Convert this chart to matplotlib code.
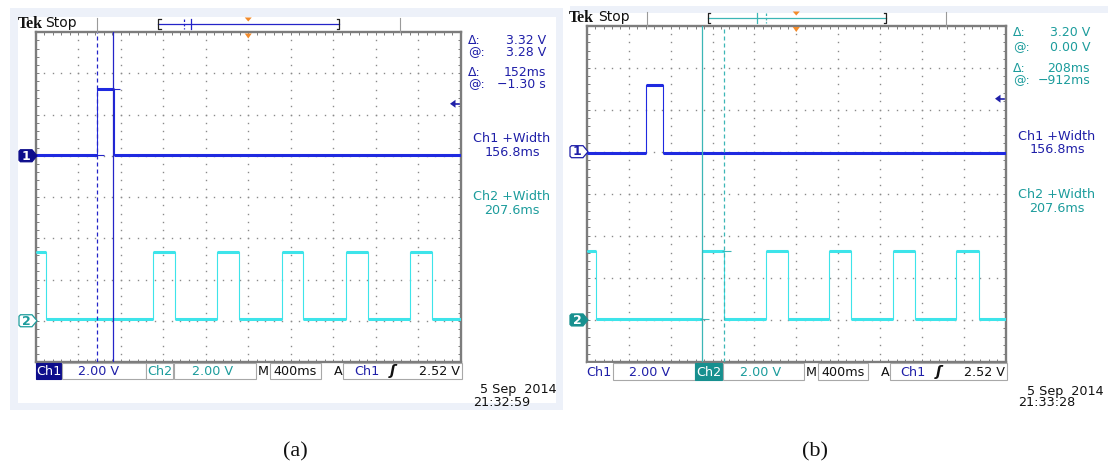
import matplotlib
matplotlib.use("Agg")
import matplotlib.pyplot as plt
from matplotlib.patches import Rectangle, Polygon
import numpy as np

# ------------------------------------------------------------------ data
time_per_div = 0.4      # s/div  (M 400ms)
volts_per_div = 2.0     # V/div  (Ch1, Ch2 2.00 V)
ch1_ground = 5.0        # divisions from bottom
ch2_ground = 1.0
trigger_level = 2.52    # V

# panel (a)
a_ch1_edges = [-1.425, -1.268]                       # s, rising then falling
a_ch1_levels = (0.04, 3.24)                          # low, high (V)
a_ch2_edges = [-1.906, -0.898, -0.690, -0.290, -0.087, 0.318, 0.516,
               0.921, 1.128, 1.524, 1.731]           # starts high
a_ch2_levels = (0.08, 3.34)
a_cursor_times = [-1.425, -1.273]
a_cursor_styles = ["dashed", "solid"]
a_readout_labels = ["Δ:", "@:", "Δ:", "@:"]
a_readout_values = ["3.32 V", "3.28 V", "152ms", "−1.30 s"]
a_ch1_width = "156.8ms"
a_ch2_width = "207.6ms"
a_date = "5 Sep  2014"
a_clock = "21:32:59"

# panel (b)
b_ch1_edges = [-1.433, -1.278]
b_ch1_levels = (-0.06, 3.18)
b_ch2_edges = [-1.910, -0.897, -0.693, -0.288, -0.081, 0.317, 0.524,
               0.925, 1.133, 1.531, 1.742]
b_ch2_levels = (0.04, 3.28)
b_cursor_times = [-0.897, -0.694]
b_cursor_styles = ["solid", "dashed"]
b_readout_labels = ["Δ:", "@:", "Δ:", "@:"]
b_readout_values = ["3.20 V", "0.00 V", "208ms", "−912ms"]
b_ch1_width = "156.8ms"
b_ch2_width = "207.6ms"
b_date = "5 Sep  2014"
b_clock = "21:33:28"

status_ch1 = "2.00 V"
status_ch2 = "2.00 V"
status_time = "400ms"
status_trig = "2.52 V"
captions = ["(a)", "(b)"]

# ------------------------------------------------------------------ style
W, H = 1108, 466
C1_TRACE = "#1f2ae0"
C2_TRACE = "#3de4ea"
C1_TEXT = "#1f1fa8"
C2_TEXT = "#1c9c9c"
C1_FILL = "#0e0e8c"
C2_FILL = "#17908f"
ORANGE = "#f28a2a"
FRAME = "#edf1f9"
GRID = "#8a8a8a"
BORDER = "#7c7c7c"
BOX = "#a8a8a8"
FS = 9.2
FR = 9.0

fig = plt.figure(figsize=(W / 100, H / 100), dpi=100)
bg = fig.add_axes([0, 0, 1, 1], zorder=0)
ov = fig.add_axes([0, 0, 1, 1], zorder=3)
for a in (bg, ov):
    a.set_xlim(0, W)
    a.set_ylim(H, 0)
    a.axis("off")
    a.patch.set_alpha(0)

# frames
bg.add_patch(Rectangle((10, 8), 553, 402, facecolor=FRAME, edgecolor="none"))
bg.add_patch(Rectangle((18, 17), 538, 386, facecolor="white", edgecolor="none"))
bg.add_patch(Rectangle((570, 6), 538, 6.5, facecolor=FRAME, edgecolor="none"))


def trace(edges, start_high, levels):
    lo, hi = levels
    state = start_high
    ts, vs, segs = [-2.0], [hi if state else lo], []
    tprev = -2.0
    for e in edges:
        v = hi if state else lo
        segs.append((tprev, e, v))
        state = not state
        ts += [e, e]
        vs += [v, hi if state else lo]
        tprev = e
    v = hi if state else lo
    segs.append((tprev, 2.0, v))
    ts.append(2.0)
    vs.append(v)
    return np.array(ts), np.array(vs), segs


def panel(box, d, lay):
    x0, y0, x1, y1 = box
    w, h = x1 - x0, y1 - y0
    sx = w / 424.5
    ax = fig.add_axes([x0 / W, 1 - y1 / H, w / W, h / H], zorder=1)
    ax.set_xlim(-5 * time_per_div, 5 * time_per_div)
    ax.set_ylim(0, 8)
    ax.set_xticks(-2 + time_per_div / 5 * np.arange(51))
    ax.set_yticks(0.2 * np.arange(41))
    ax.tick_params(direction="in", length=2.2, width=0.7, color=BORDER,
                   top=True, right=True, labelbottom=False, labelleft=False)
    for s in ax.spines.values():
        s.set_linewidth(1.7)
        s.set_color(BORDER)
    # dotted graticule
    mt = -2 + time_per_div * np.arange(1, 10)
    nt = -2 + time_per_div / 5 * np.arange(1, 50)
    md = np.arange(1, 8)
    nd = 0.2 * np.arange(1, 40)
    T, D = np.meshgrid(mt, nd)
    ax.plot(T.ravel(), D.ravel(), "s", ms=1.0, mew=0, color=GRID)
    T, D = np.meshgrid(nt, md)
    ax.plot(T.ravel(), D.ravel(), "s", ms=1.0, mew=0, color=GRID)

    def px(t):
        return x0 + (t + 2) / 4 * w

    def py(div):
        return y1 - div / 8 * h

    # traces
    for edges, sh, lv, gnd, col in [(d["ch1_edges"], False, d["ch1_levels"], ch1_ground, C1_TRACE),
                                    (d["ch2_edges"], True, d["ch2_levels"], ch2_ground, C2_TRACE)]:
        ts, vs, segs = trace(edges, sh, lv)
        ax.plot(ts, gnd + vs / volts_per_div, color=col, lw=0.8, zorder=4)
        for (ta, tb, v) in segs:
            ax.hlines(gnd + v / volts_per_div, ta, tb, color=col, lw=2.2, zorder=4)

    # cursors
    ccol = lay["cursor_color"]
    for t, st in zip(d["cursor_times"], d["cursor_styles"]):
        if st == "dashed":
            ax.axvline(t, color=ccol, lw=0.9, dashes=(3.2, 2.4), zorder=5)
        else:
            ax.axvline(t, color=ccol, lw=0.9, zorder=5)
    dt = time_per_div / 42.4
    for (t, gnd, v) in lay["cursor_ticks"](d):
        ax.hlines(gnd + v / volts_per_div, t - 2 * dt, t + 7 * dt, color=ccol, lw=0.8, zorder=5)

    # header
    ty = lay["head_y"]
    ov.text(lay["tek_x"], ty + 0.5, "Tek", fontsize=11.5, fontweight="bold",
            family="Liberation Serif", va="center", ha="left", color="#111111")
    ov.text(lay["stop_x"], ty, "Stop", fontsize=10, va="center", ha="left", color="#111111")
    for sxp in lay["seps"]:
        ov.plot([sxp, sxp], [ty - 5.5, y0], color="#9a9a9a", lw=0.8)
    bx0, bx1 = lay["bracket"]
    by = lay["bar_y"]
    ov.plot([bx0, bx1], [by, by], color=ccol, lw=0.9)
    for xb, sgn in [(bx0, 1), (bx1, -1)]:
        ov.plot([xb + 2.5 * sgn, xb, xb, xb + 2.5 * sgn], [by - 5, by - 5, by + 5, by + 5],
                color="#222222", lw=0.9)
    for t, st in zip(d["cursor_times"], d["cursor_styles"]):
        xb = bx0 + (t + 2) / 4 * (bx1 - bx0)
        ov.plot([xb, xb], [by - 5, by + 5], color=ccol, lw=0.9,
                ls=(0, (2, 1.5)) if st == "dashed" else "-")
    cx = px(0.0)
    for (ya, yb) in lay["orange"]:
        ov.add_patch(Polygon([(cx - 3.5, ya), (cx + 3.5, ya), (cx, yb)],
                             facecolor=ORANGE, edgecolor="none"))

    # trigger level arrow
    yt = py(ch1_ground + trigger_level / volts_per_div)
    ov.add_patch(Polygon([(x1 - 10.5, yt), (x1 - 5, yt - 4), (x1 - 5, yt + 4)],
                         facecolor=C1_TEXT, edgecolor="none"))
    ov.plot([x1 - 6, x1 - 1.5], [yt, yt], color=C1_TEXT, lw=1.2)

    # channel markers
    for num, gnd, col, filled in [("1", ch1_ground, lay["m1"][0], lay["m1"][1]),
                                  ("2", ch2_ground, lay["m2"][0], lay["m2"][1])]:
        yc = py(gnd)
        xl, xr, tip = x0 - 17, x0 - 4, x0 + 1
        poly = [(xl + 1.5, yc - 6), (xr, yc - 6), (tip, yc), (xr, yc + 6),
                (xl + 1.5, yc + 6), (xl, yc + 4.5), (xl, yc - 4.5)]
        ov.add_patch(Polygon(poly, facecolor=col if filled else "white",
                             edgecolor=col, lw=0.9))
        ov.text((xl + xr) / 2 + 0.5, yc + 0.3, num, fontsize=9, fontweight="bold",
                color="white" if filled else col, ha="center", va="center")

    # readouts
    tcol = lay["readout_color"]
    for lab, val, yy in zip(d["readout_labels"], d["readout_values"], lay["read_y"]):
        ov.text(x1 + 7.5, yy, lab, fontsize=FR, color=tcol, ha="left", va="center")
        ov.text(x1 + lay["val_dx"], yy, val, fontsize=FR, color=tcol, ha="right", va="center")
    wy = lay["width_y"]
    cxw = x1 + 51.5
    ov.text(cxw, wy[0], "Ch1 +Width", fontsize=FS, color=C1_TEXT, ha="center", va="center")
    ov.text(cxw, wy[1], d["ch1_width"], fontsize=FS, color=C1_TEXT, ha="center", va="center")
    ov.text(cxw, wy[2], "Ch2 +Width", fontsize=FS, color=C2_TEXT, ha="center", va="center")
    ov.text(cxw, wy[3], d["ch2_width"], fontsize=FS, color=C2_TEXT, ha="center", va="center")
    ov.text(x1 + lay["date_dx"], lay["date_y"], d["date"], fontsize=FS, color="#111111",
            ha="right", va="center")
    ov.text(x1 + 12.5, 402, d["clock"], fontsize=FS, color="#111111", ha="left", va="center")

    # status bar
    st0, st1 = y1 + 1, lay["status_bot"]
    ym = (st0 + st1) / 2 + 0.5

    def X(r):
        return x0 + r * sx

    def boxr(ra, rb, fc="white", ec=BOX):
        ov.add_patch(Rectangle((X(ra), st0), X(rb) - X(ra), st1 - st0,
                               facecolor=fc, edgecolor=ec, lw=0.8))
    hl = lay["highlight"]
    if hl == "ch1":
        boxr(0, 25, fc=C1_FILL, ec=C1_FILL)
    else:
        boxr(0, 25, ec="white")
    boxr(26, 110)
    if hl == "ch2":
        boxr(110, 137, fc=C2_FILL, ec=C2_FILL)
    else:
        boxr(110, 137)
    boxr(138, 220)
    boxr(234, 285)
    boxr(307, 426)
    ov.text(X(12.5), ym, "Ch1", fontsize=FS, ha="center", va="center",
            color="white" if hl == "ch1" else C1_TEXT)
    ov.text(X(63), ym, status_ch1, fontsize=FS, ha="center", va="center", color=C1_TEXT)
    ov.text(X(123.5), ym, "Ch2", fontsize=FS, ha="center", va="center",
            color="white" if hl == "ch2" else C2_TEXT)
    ov.text(X(176.5), ym, status_ch2, fontsize=FS, ha="center", va="center", color=C2_TEXT)
    ov.text(X(227), ym, "M", fontsize=FS, ha="center", va="center", color="#111111")
    ov.text(X(259.5), ym, status_time, fontsize=FS, ha="center", va="center", color="#111111")
    ov.text(X(302.5), ym, "A", fontsize=FS, ha="center", va="center", color="#111111")
    ov.text(X(331), ym, "Ch1", fontsize=FS, ha="center", va="center", color=C1_TEXT)
    ov.text(X(357), ym, "ʃ", fontsize=FS + 1, fontweight="bold", fontstyle="italic",
            ha="center", va="center", color="#111111")
    ov.text(X(424), ym, status_trig, fontsize=FS, ha="right", va="center", color="#111111")


data_a = dict(ch1_edges=a_ch1_edges, ch1_levels=a_ch1_levels, ch2_edges=a_ch2_edges,
              ch2_levels=a_ch2_levels, cursor_times=a_cursor_times,
              cursor_styles=a_cursor_styles, readout_labels=a_readout_labels,
              readout_values=a_readout_values, ch1_width=a_ch1_width,
              ch2_width=a_ch2_width, date=a_date, clock=a_clock)
data_b = dict(ch1_edges=b_ch1_edges, ch1_levels=b_ch1_levels, ch2_edges=b_ch2_edges,
              ch2_levels=b_ch2_levels, cursor_times=b_cursor_times,
              cursor_styles=b_cursor_styles, readout_labels=b_readout_labels,
              readout_values=b_readout_values, ch1_width=b_ch1_width,
              ch2_width=b_ch2_width, date=b_date, clock=b_clock)

lay_a = dict(cursor_color="#2424c8", readout_color=C1_TEXT,
             cursor_ticks=lambda d: [(d["cursor_times"][0], ch1_ground, d["ch1_levels"][0]),
                                     (d["cursor_times"][1], ch1_ground, d["ch1_levels"][1])],
             head_y=23, tek_x=18, stop_x=45.5, seps=[97, 400], bracket=(158, 339), bar_y=24,
             orange=[(17.5, 21.5), (33.5, 38.5)],
             m1=(C1_FILL, True), m2=(C2_TEXT, False),
             read_y=[40, 52.5, 72, 85], val_dx=85.5,
             width_y=[138, 153, 197, 210.5], date_dx=96.5, date_y=389,
             status_bot=379, highlight="ch1")
lay_b = dict(cursor_color="#3cb6b6", readout_color=C2_TEXT,
             cursor_ticks=lambda d: [(d["cursor_times"][0], ch2_ground, d["ch2_levels"][0]),
                                     (d["cursor_times"][1], ch2_ground, d["ch2_levels"][1])],
             head_y=17, tek_x=569, stop_x=598, seps=[647, 946], bracket=(707.7, 886), bar_y=18.3,
             orange=[(11.5, 15.5), (27, 32)],
             m1=(C1_TEXT, False), m2=(C2_FILL, True),
             read_y=[33, 47.5, 68, 81], val_dx=84.5,
             width_y=[136, 149.5, 195, 208.5], date_dx=98, date_y=391,
             status_bot=380, highlight="ch2")

panel((36, 32, 460.5, 362), data_a, lay_a)
panel((587, 25.5, 1005.5, 362), data_b, lay_b)

for cap, xc in zip(captions, [295, 815]):
    ov.text(xc, 452, cap, fontsize=16, family="Liberation Serif", ha="center",
            va="center", color="#111111")

fig.savefig("out.png", dpi=100)
